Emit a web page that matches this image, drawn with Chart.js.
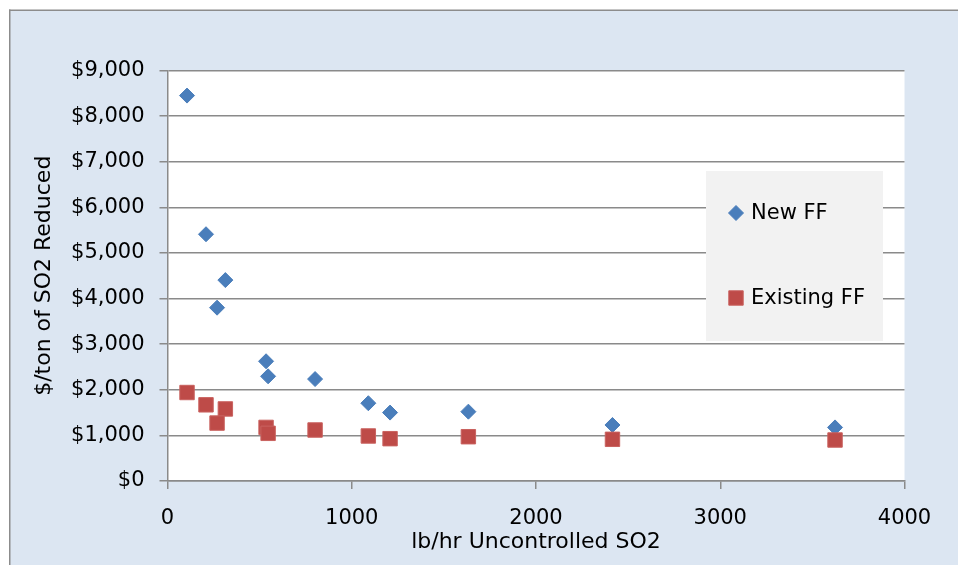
<!DOCTYPE html>
<html>
<head>
<meta charset="utf-8">
<script src="https://cdn.jsdelivr.net/npm/chart.js@4/dist/chart.umd.min.js"></script>
<style>
  html, body { margin: 0; padding: 0; background: #fff; overflow: hidden; }
  #wrap { width: 958px; height: 565px; }
</style>
</head>
<body>
<div id="wrap"><canvas id="chart1" width="958" height="565"></canvas></div>
<script>
// uncontrolled SO2 (lb/hr) for each unit, shared by both series
var lbPerHr = [106, 209, 314, 269, 535, 546, 801, 1090, 1208, 1633, 2415, 3623];
// cost per ton of SO2 reduced
var newFF = [8450, 5410, 4405, 3800, 2625, 2295, 2235, 1705, 1500, 1520, 1228, 1175];
var existingFF = [1940, 1670, 1580, 1270, 1175, 1045, 1118, 987, 928, 971, 914, 899];
var seriesNames = ["New FF", "Existing FF"];
var yTicks = [0, 1000, 2000, 3000, 4000, 5000, 6000, 7000, 8000, 9000];
var xTicks = [0, 1000, 2000, 3000, 4000];

var FONT = "'DejaVu Sans', sans-serif";
var GRID = "#8a8a8a";

function points(ys) {
  return lbPerHr.map(function (x, i) { return { x: x, y: ys[i] }; });
}

// blue panel with grey frame (left and top edges), white plot area
var background = {
  id: "background",
  beforeDraw: function (chart) {
    var ctx = chart.ctx, a = chart.chartArea;
    ctx.save();
    ctx.fillStyle = "#dce6f2";
    ctx.fillRect(10, 10, chart.width - 10, chart.height - 10);
    ctx.fillStyle = "#8c8c8c";
    ctx.fillRect(9, 9.5, 1.5, chart.height - 9.5);
    ctx.fillRect(9, 9.5, chart.width - 9, 1.5);
    ctx.fillStyle = "#fff";
    ctx.fillRect(a.left, a.top, a.right - a.left, a.bottom - a.top);
    ctx.restore();
  }
};

// legend box sitting inside the plot
var boxLegend = {
  id: "boxLegend",
  afterDraw: function (chart) {
    var ctx = chart.ctx;
    ctx.save();
    ctx.fillStyle = "#f2f2f2";
    ctx.fillRect(706, 171, 177, 170);
    var rows = [213, 298];
    chart.data.datasets.forEach(function (ds, i) {
      ctx.fillStyle = ds.backgroundColor;
      ctx.strokeStyle = ds.borderColor;
      ctx.lineWidth = ds.borderWidth;
      Chart.helpers.drawPoint(ctx, {
        pointStyle: ds.pointStyle,
        radius: ds.pointRadius,
        borderWidth: ds.borderWidth
      }, 736, rows[i]);
      ctx.fillStyle = "#000";
      ctx.font = "21px " + FONT;
      ctx.textBaseline = "middle";
      ctx.textAlign = "left";
      ctx.fillText(ds.label, 751, rows[i] + 1);
    });
    ctx.restore();
  }
};

var ctx = document.getElementById("chart1");
var myChart = new Chart(ctx, {
  type: "scatter",
  data: {
    datasets: [
      {
        label: seriesNames[0],
        data: points(newFF),
        pointStyle: "rectRot",
        pointRadius: 7.5,
        backgroundColor: "#4a7ebb",
        borderColor: "#4a7ebb",
        borderWidth: 1,
        order: 1,
      },
      {
        label: seriesNames[1],
        data: points(existingFF),
        pointStyle: "rect",
        pointRadius: 10.2,
        backgroundColor: "#be4b48",
        borderColor: "#c9625f",
        borderWidth: 1,
        order: 0,
      },
    ],
  },
  options: {
    responsive: false,
    animation: false,
    layout: { padding: { left: 0, top: 70.5, right: 53.5, bottom: 0 } },
    plugins: {
      legend: { display: false },
      tooltip: { enabled: false },
    },
    scales: {
      x: {
        type: "linear",
        min: 0,
        max: 4000,
        afterBuildTicks: function (s) {
          s.ticks = xTicks.map(function (v) { return { value: v }; });
        },
        afterFit: function (s) { s.height = 84; },
        grid: { display: true, drawOnChartArea: false, color: GRID, lineWidth: 1.5, tickLength: 8 },
        border: { color: GRID, width: 1.5 },
        ticks: {
          color: "#000",
          font: { family: FONT, size: 21 },
          padding: 17,
          callback: function (v) { return String(v); },
        },
        title: {
          display: true,
          text: "lb/hr Uncontrolled SO2",
          color: "#000",
          font: { family: FONT, size: 22 },
          padding: { top: 0, bottom: 10 },
        },
      },
      y: {
        type: "linear",
        min: 0,
        max: 9000,
        afterBuildTicks: function (s) {
          s.ticks = yTicks.map(function (v) { return { value: v }; });
        },
        afterFit: function (s) { s.width = 167.5; },
        grid: { color: GRID, lineWidth: 1.5, tickLength: 8 },
        border: { color: GRID, width: 1.5 },
        ticks: {
          color: "#000",
          font: { family: FONT, size: 21 },
          padding: 15,
          callback: function (v) { return "$" + v.toLocaleString("en-US"); },
        },
        title: {
          display: true,
          text: "$/ton of SO2 Reduced",
          color: "#000",
          font: { family: FONT, size: 22 },
          padding: { top: 31, bottom: 0 },
        },
      },
    },
  },
  plugins: [background, boxLegend],
});
</script>
</body>
</html>
